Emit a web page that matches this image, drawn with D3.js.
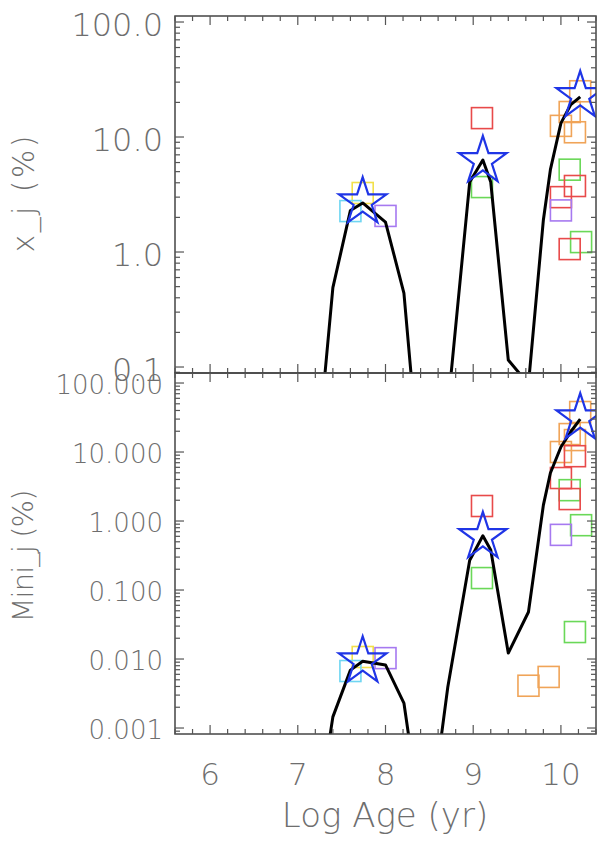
<!DOCTYPE html>
<html><head><meta charset="utf-8">
<script src="https://cdn.jsdelivr.net/npm/d3@7"></script>
<style>
html,body{margin:0;padding:0;background:#fff;}
text{font-family:"DejaVu Sans","Liberation Sans",sans-serif;font-weight:200;fill:#6e6e6e;}
</style></head>
<body>
<svg id="chart" width="600" height="848"></svg>
<script>
// ---- data ----
const lineAges  = [7.16, 7.4, 7.6, 7.74, 8.0, 8.21, 8.46, 8.71, 8.96, 9.11, 9.2, 9.4, 9.63, 9.8, 9.88, 10.0, 10.11, 10.22];
const lightFrac = [0.005, 0.49, 2.3, 2.67, 1.82, 0.44, 0.003, 0.044, 4.06, 6.3, 4.06, 0.115, 0.071, 1.9, 5.2, 13.2, 19, 22.3];
const massFrac  = [0.000015, 0.00145, 0.0069, 0.0093, 0.0082, 0.0023, 0.000015, 0.0039, 0.27, 0.61, 0.38, 0.0122, 0.048, 1.7, 4.97, 11.8, 19.5, 30];

const starAges  = [7.74, 9.11, 10.22];
const starLight = [2.72, 6.2, 22.8];
const starMass  = [0.0093, 0.59, 31];

const sqTopAges  = [7.74, 7.6, 8.0, 9.1, 9.1, 10.22, 10.1, 10.0, 10.16, 10.1, 10.16, 10.0, 10.0, 10.23, 10.1];
const sqTopVals  = [3.26, 2.27, 2.06, 14.6, 3.67, 25, 16.5, 12.5, 11, 5.2, 3.75, 3.0, 2.3, 1.22, 1.06];
const sqTopCols  = ["yellow","cyan","purple","red","green","orange","orange","orange","orange","green","red","red","purple","green","red"];

const sqBotAges  = [7.74, 7.6, 8.0, 9.1, 9.1, 10.22, 10.1, 10.0, 10.16, 10.16, 10.0, 10.1, 10.1, 10.23, 10.0, 10.16, 9.86, 9.63];
const sqBotVals  = [0.0107, 0.0067, 0.0103, 1.65, 0.149, 38, 18.2, 10, 14.9, 8.7, 4.2, 2.8, 2.08, 0.87, 0.63, 0.0246, 0.0055, 0.0041];
const sqBotCols  = ["yellow","cyan","purple","red","green","orange","orange","orange","orange","red","red","green","red","green","purple","green","orange","orange"];

const xTickLabels = [6, 7, 8, 9, 10];
const topTickVals = [100, 10, 1, 0.1];
const botTickVals = [100, 10, 1, 0.1, 0.01, 0.001];

const palette = {yellow:"#f2e04a", cyan:"#6fd6f2", purple:"#a679f0", red:"#e84a4a", green:"#6ad858", orange:"#f0a458"};

// ---- layout ----
const svg = d3.select("#chart");
const L = 175, R = 596;
const x = d3.scaleLinear().domain([5.6, 10.4]).range([L, R]);
const yTop = d3.scaleLog().domain([0.0887, 112.8]).range([373, 16]);
const yBot = d3.scaleLog().domain([0.000819, 139.7]).range([734, 373]);

function panel(id, y, ages, vals, sAges, sVals, sCols, stA, stV, tickVals, fmt, fsize, dyLab, showX){
  const [y0, y1] = y.range();
  const g = svg.append("g");
  g.append("clipPath").attr("id", id).append("rect")
    .attr("x", L).attr("y", y1).attr("width", R - L).attr("height", y0 - y1);
  const c = g.append("g").attr("clip-path", `url(#${id})`);

  // squares
  const s = 21;
  c.selectAll("rect.sq").data(sAges.map((a, i) => ({a, v: sVals[i], col: sCols[i]})))
    .join("rect").attr("class", "sq")
    .attr("x", d => x(d.a) - s / 2).attr("y", d => y(d.v) - s / 2)
    .attr("width", s).attr("height", s)
    .attr("fill", "none").attr("stroke", d => palette[d.col]).attr("stroke-width", 1.6);

  // line
  const line = d3.line().x((d, i) => x(ages[i])).y(d => y(d));
  c.append("path").datum(vals).attr("d", line)
    .attr("fill", "none").attr("stroke", "#000").attr("stroke-width", 3).attr("stroke-linejoin", "round");

  // stars
  const star = d3.symbol().type(d3.symbolStar).size(700);
  c.selectAll("path.st").data(stA.map((a, i) => ({a, v: stV[i]})))
    .join("path").attr("class", "st")
    .attr("transform", d => `translate(${x(d.a)},${y(d.v)})`)
    .attr("d", star).attr("fill", "none").attr("stroke", "#1f35e6").attr("stroke-width", 2.2);

  // frame
  g.append("rect").attr("x", L).attr("y", y1).attr("width", R - L).attr("height", y0 - y1)
    .attr("fill", "none").attr("stroke", "#444").attr("stroke-width", 1.5);

  // y ticks (left and right)
  const [dmin, dmax] = y.domain();
  const minor = [];
  for (let e = Math.floor(Math.log10(dmin)); e <= Math.ceil(Math.log10(dmax)); e++) {
    for (let k = 1; k <= 9; k++) {
      const v = k * Math.pow(10, e);
      if (v >= dmin && v <= dmax) minor.push({v, major: k === 1});
    }
  }
  const yt = g.append("g").attr("stroke", "#555").attr("stroke-width", 1.2);
  minor.forEach(t => {
    const len = t.major ? 9 : 5;
    yt.append("line").attr("x1", L).attr("x2", L + len).attr("y1", y(t.v)).attr("y2", y(t.v));
    yt.append("line").attr("x1", R).attr("x2", R - len).attr("y1", y(t.v)).attr("y2", y(t.v));
  });
  g.selectAll("text.yl").data(tickVals).join("text").attr("class", "yl")
    .attr("x", 163).attr("y", d => y(d) + dyLab)
    .attr("text-anchor", "end").attr("font-size", fsize)
    .text(d => fmt(d));

  // x ticks (bottom and top)
  const xt = g.append("g").attr("stroke", "#555").attr("stroke-width", 1.2);
  d3.range(56, 105, 2).map(v => v / 10).forEach(v => {
    const major = Math.abs(v - Math.round(v)) < 1e-9;
    const len = major ? 9 : 5;
    xt.append("line").attr("x1", x(v)).attr("x2", x(v)).attr("y1", y0).attr("y2", y0 - len);
    xt.append("line").attr("x1", x(v)).attr("x2", x(v)).attr("y1", y1).attr("y2", y1 + len);
  });
  if (showX) {
    g.selectAll("text.xl").data(xTickLabels).join("text").attr("class", "xl")
      .attr("x", d => x(d)).attr("y", 785).attr("text-anchor", "middle").attr("font-size", 31)
      .text(d => d);
  }
}

panel("clipTop", yTop, lineAges, lightFrac, sqTopAges, sqTopVals, sqTopCols, starAges, starLight,
      topTickVals, d3.format(".1f"), 32, 14, false);
panel("clipBot", yBot, lineAges, massFrac, sqBotAges, sqBotVals, sqBotCols, starAges, starMass,
      botTickVals, d3.format(".3f"), 26, 11, true);

// axis titles
svg.append("text").attr("transform", "translate(34,194) rotate(-90)")
  .attr("text-anchor", "middle").attr("font-size", 30).attr("textLength", 117).text("x_j (%)");
svg.append("text").attr("transform", "translate(33,556) rotate(-90)")
  .attr("text-anchor", "middle").attr("font-size", 29).attr("textLength", 133).text("Mini_j (%)");
svg.append("text").attr("x", 385).attr("y", 827).attr("text-anchor", "middle")
  .attr("font-size", 34).text("Log Age (yr)");
</script>
</body></html>
